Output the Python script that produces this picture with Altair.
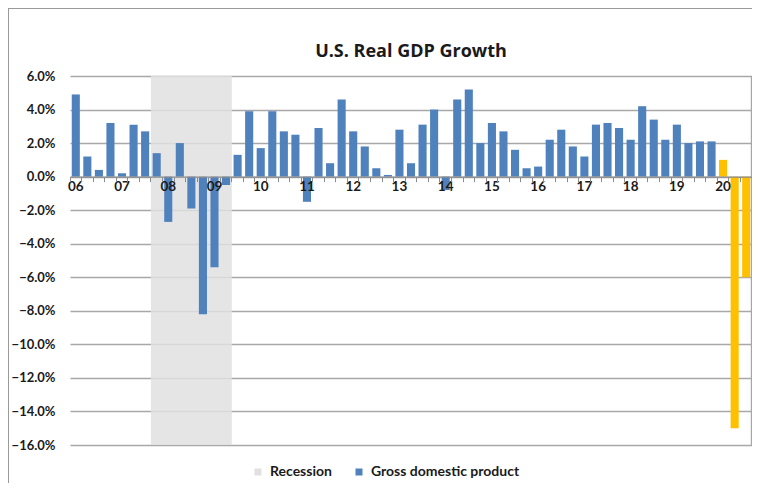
import altair as alt
import pandas as pd

# ---- data ----
years = list(range(2006, 2021))
quarters = [f"{y}Q{q}" for y in years for q in range(1, 5)][:59]
gdp = [4.9, 1.2, 0.4, 3.2,
       0.2, 3.1, 2.7, 1.4,
       -2.7, 2.0, -1.9, -8.2,
       -5.4, -0.5, 1.3, 3.9,
       1.7, 3.9, 2.7, 2.5,
       -1.5, 2.9, 0.8, 4.6,
       2.7, 1.8, 0.5, 0.1,
       2.8, 0.8, 3.1, 4.0,
       -0.8, 4.6, 5.2, 2.0,
       3.2, 2.7, 1.6, 0.5,
       0.6, 2.2, 2.8, 1.8,
       1.2, 3.1, 3.2, 2.9,
       2.2, 4.2, 3.4, 2.2,
       3.1, 2.0, 2.1, 2.1,
       1.0, -15.0, -6.0]
series = ["Gross domestic product"] * 56 + ["Forecast"] * 3
recession_start = "2007Q4"
recession_end = "2009Q2"
year_labels = [f"{y % 100:02d}" for y in years]
y_ticks = [-16, -14, -12, -10, -8, -6, -4, -2, 0, 2, 4, 6]
y_min, y_max = -16, 6

W, H = 682, 369
FONT = "Lato"
TXT = "#1a1a1a"
GRID = "#a8a8a8"

df = pd.DataFrame({"quarter": quarters, "gdp": gdp, "series": series})
rec = pd.DataFrame({"start": [recession_start], "end": [recession_end],
                    "lo": [y_min], "hi": [y_max], "series": ["Recession"]})
lab = pd.DataFrame({"quarter": [f"{y}Q1" for y in years], "label": year_labels,
                    "zero": [0] * len(years)})

zero_px = H * (y_max - 0) / (y_max - y_min)
axis_offset = -(H - zero_px)

xscale = alt.Scale(domain=quarters, paddingInner=0, paddingOuter=0)
yscale = alt.Scale(domain=[y_min, y_max], nice=False)
cscale = alt.Scale(domain=["Recession", "Gross domestic product", "Forecast"],
                   range=["#e1e1e1", "#4f81bd", "#ffc000"])

x_axis = alt.Axis(title=None, labels=False, ticks=True, tickSize=5,
                  tickColor="#8c8c8c", domainColor="#8c8c8c",
                  domainWidth=1.3, bandPosition=0, grid=False,
                  offset=axis_offset)
y_axis = alt.Axis(title=None, values=y_ticks, tickCount=12, labelOverlap=False,
                  labelExpr="format(datum.value, '.1f') + '%'",
                  domain=False, ticks=False, labelPadding=15,
                  gridColor=GRID, gridWidth=1.3)

recession = alt.Chart(rec).mark_rect(opacity=0.85).encode(
    x=alt.X("start:N", scale=xscale, sort=quarters, bandPosition=0, axis=x_axis),
    x2=alt.X2("end:N", bandPosition=1),
    y=alt.Y("lo:Q", scale=yscale, axis=y_axis),
    y2="hi:Q",
    color=alt.Color("series:N", scale=cscale,
                    legend=alt.Legend(title=None, values=["Recession", "Gross domestic product"],
                                      orient="none", legendX=181, legendY=389,
                                      direction="horizontal", symbolType="square",
                                      symbolSize=49, symbolOpacity=1, labelOffset=5,
                                      columnPadding=20, labelFont=FONT, labelFontSize=14,
                                      labelFontWeight="bold", labelColor=TXT)),
)

bars = alt.Chart(df).mark_bar(width=alt.RelativeBandSize(0.7)).encode(
    x=alt.X("quarter:N", scale=xscale, sort=quarters, axis=x_axis),
    y=alt.Y("gdp:Q", scale=yscale, axis=y_axis),
    color=alt.Color("series:N", scale=cscale),
)

labels = alt.Chart(lab).mark_text(baseline="top", dy=3, font=FONT, fontSize=13.5,
                                  fontWeight="bold", color=TXT).encode(
    x=alt.X("quarter:N", scale=xscale, sort=quarters, axis=x_axis),
    y=alt.Y("zero:Q", scale=yscale, axis=y_axis),
    text="label:N",
)

one = alt.Data(values=[{"a": 1}])
frame_top = alt.Chart(one).mark_rule(color="#9a9a9a", strokeWidth=1).encode(
    x=alt.value(-62), x2=alt.value(W), y=alt.value(-67.5))
frame_left = alt.Chart(one).mark_rule(color="#9a9a9a", strokeWidth=1).encode(
    x=alt.value(-61.5), y=alt.value(-68), y2=alt.value(H + 38))
plot_right = alt.Chart(one).mark_rule(color="#a6a6a6", strokeWidth=1.2).encode(
    x=alt.value(W - 0.6), y=alt.value(0), y2=alt.value(H))

chart = alt.layer(recession, bars, labels, frame_top, frame_left, plot_right).properties(
    width=W, height=H,
    title=alt.Title("U.S. Real GDP Growth", font="Open Sans", fontSize=18, fontWeight="bold",
                    color=TXT, offset=-53, anchor="middle", frame="group"),
    autosize=alt.AutoSizeParams(type="none"),
    padding={"left": 62, "top": 68, "right": 0, "bottom": 38},
).configure_view(stroke=None).configure_axis(
    labelFont=FONT, labelFontSize=13, labelFontWeight="bold", labelColor=TXT
)

chart.save("out.html", embed_options={"renderer": "svg", "actions": False})
